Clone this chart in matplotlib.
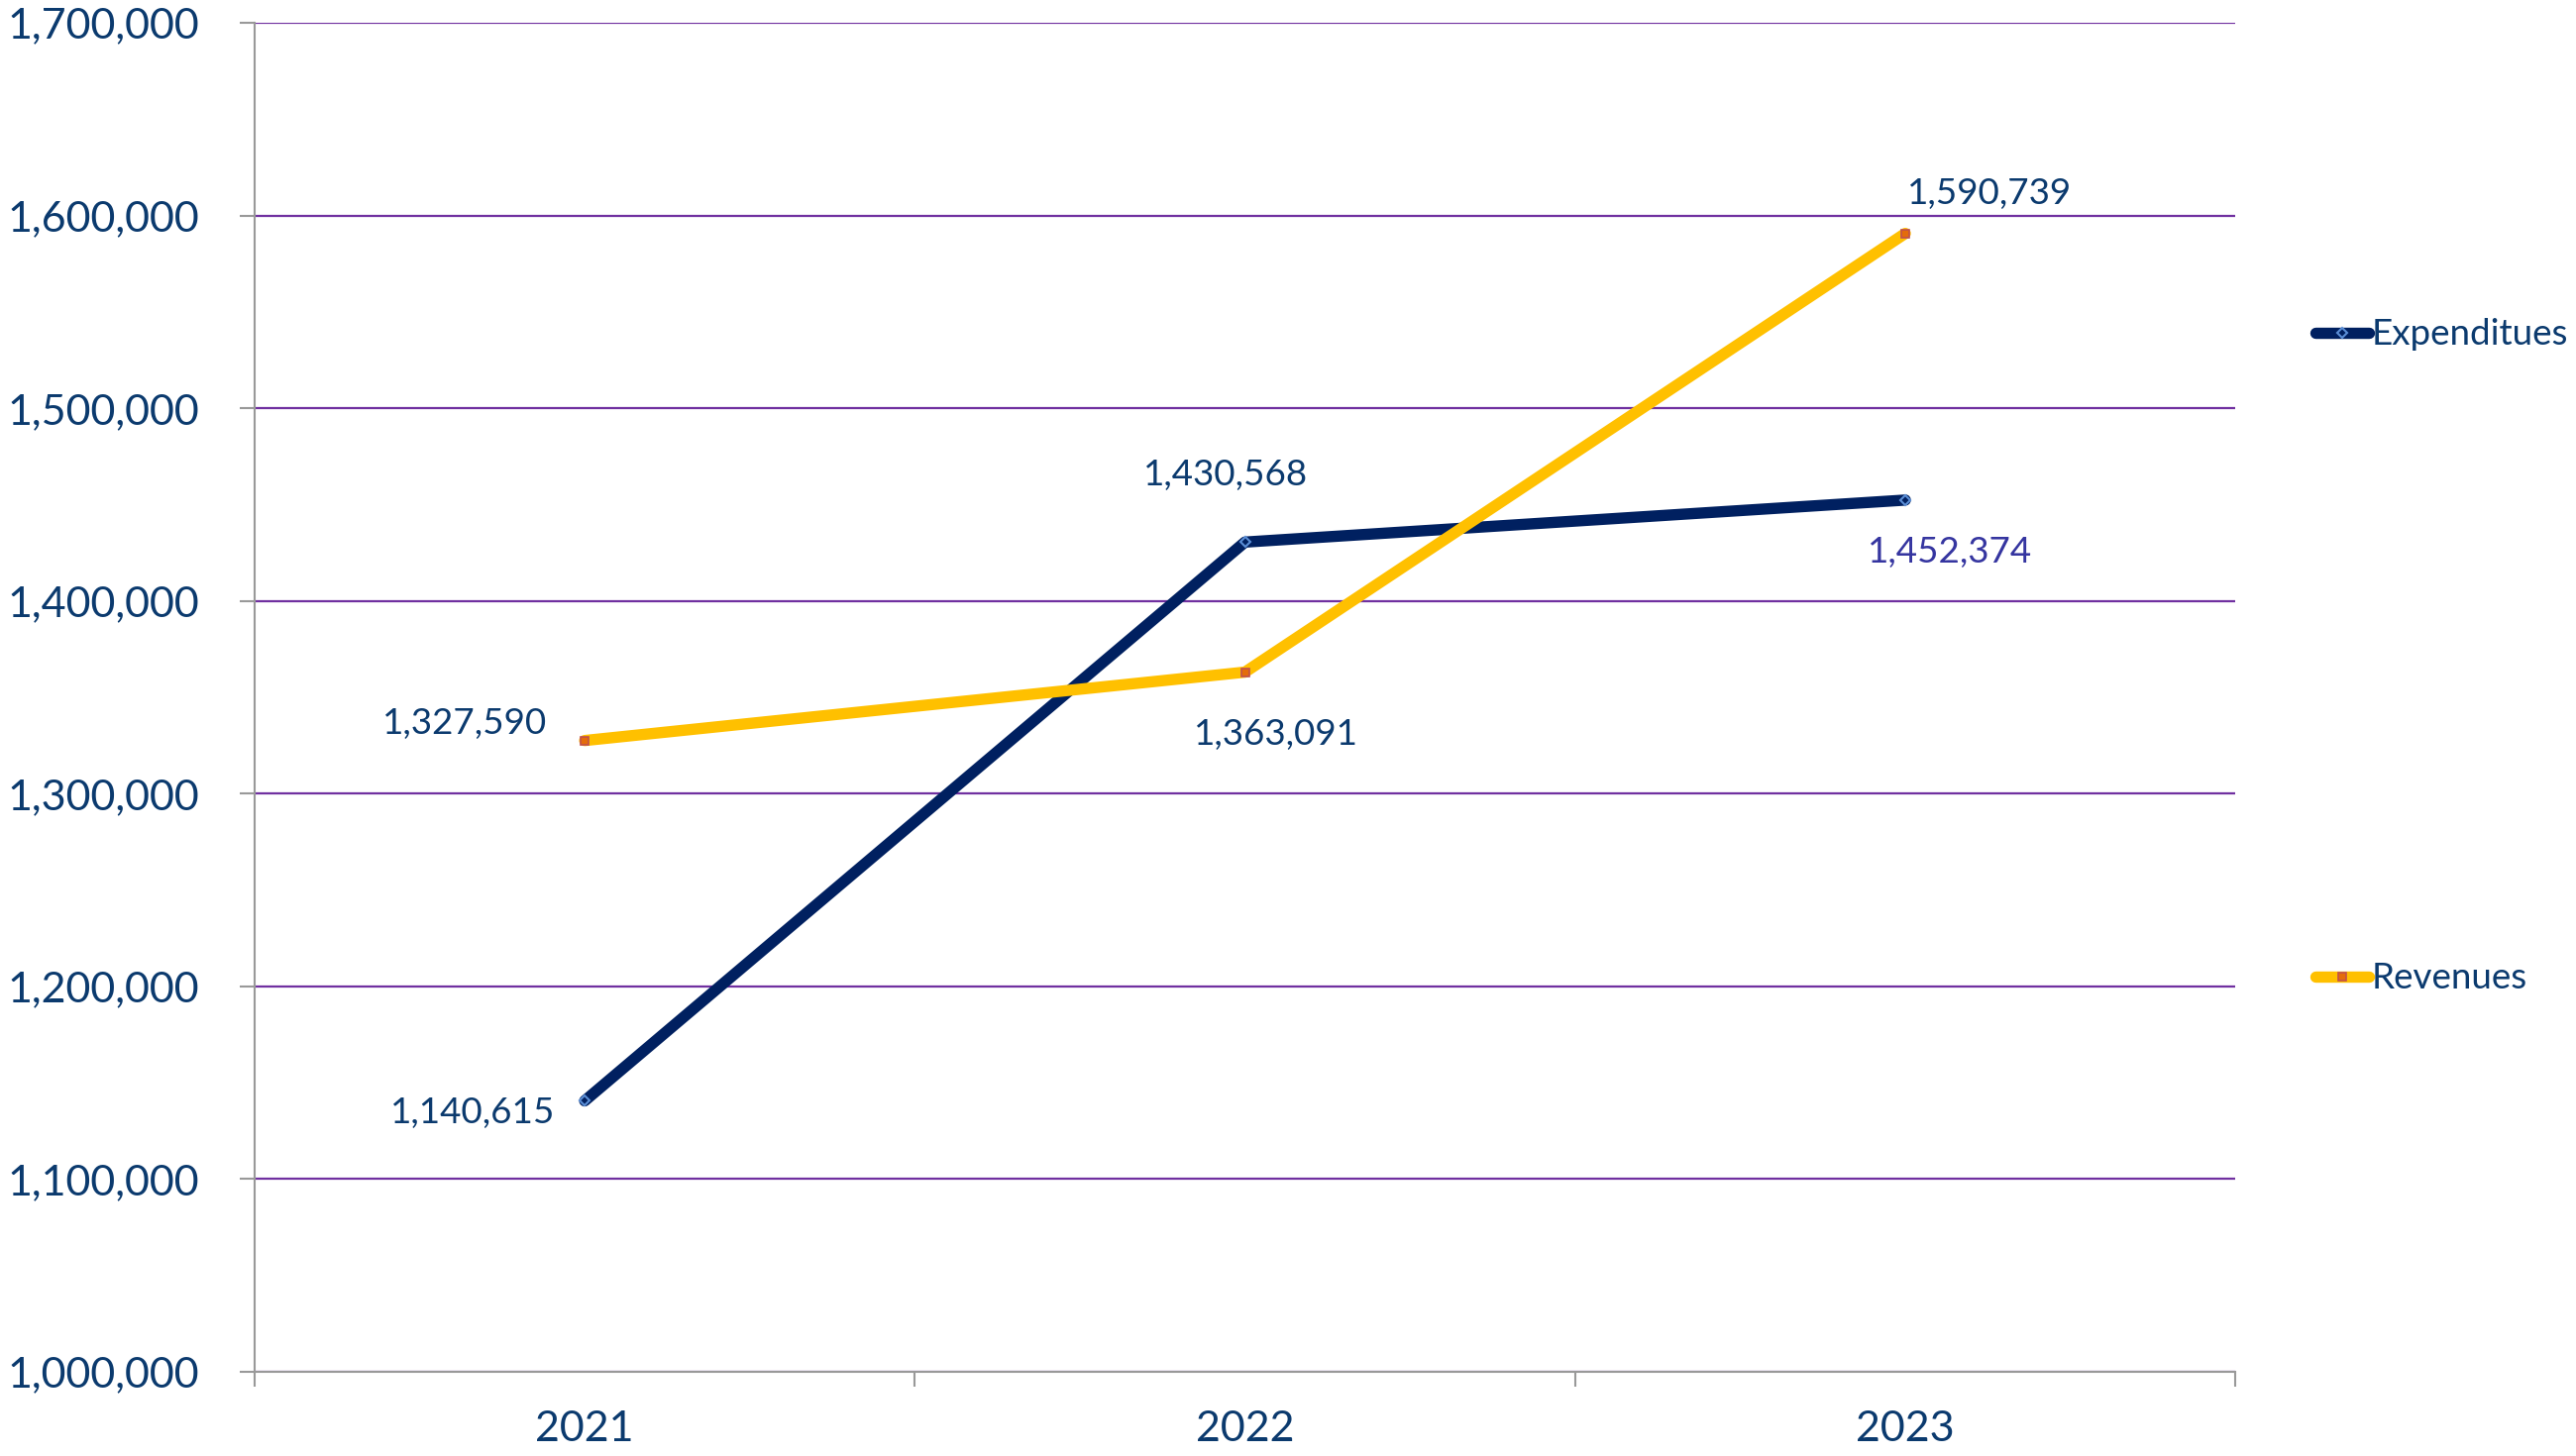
import matplotlib
matplotlib.use("Agg")
import matplotlib.pyplot as plt
from matplotlib.lines import Line2D
from matplotlib.ticker import FuncFormatter, FixedLocator

plt.rcParams['font.family'] = ['Lato', 'DejaVu Sans']

years = ['2021', '2022', '2023']
expenditures = [1140615, 1430568, 1452374]
revenues = [1327590, 1363091, 1590739]

TEXT = '#0B3A6E'
EXP_COLOR = '#002060'
REV_COLOR = '#FFC000'
GRID = '#7030A0'
AXIS = '#999999'

fig = plt.figure(figsize=(26, 14.7), dpi=100)
ax = fig.add_axes([0.0988, 0.0578, 0.769, 0.9265])

x = list(range(len(years)))
ax.plot(x, expenditures, color=EXP_COLOR, lw=8.2, solid_capstyle='round',
        marker='D', ms=5, mfc='none', mec='#5B8ED6', mew=1.5, zorder=3)
ax.plot(x, revenues, color=REV_COLOR, lw=8.2, solid_capstyle='round',
        marker='s', ms=6, mfc='#E46C0A', mec='#C0504D', mew=1.2, zorder=3)

# data labels (offsets in pixels)
exp_offsets = [(-113, -12), (-20, 68), (45, -53)]
rev_offsets = [(-121, 17), (31, -63), (85, 40)]
exp_colors = [TEXT, TEXT, '#3535A0']
for i, v in enumerate(expenditures):
    ax.annotate(f'{v:,}', (x[i], v), xytext=exp_offsets[i], textcoords='offset pixels',
                ha='center', va='center', fontsize=26.5, color=exp_colors[i])
for i, v in enumerate(revenues):
    ax.annotate(f'{v:,}', (x[i], v), xytext=rev_offsets[i], textcoords='offset pixels',
                ha='center', va='center', fontsize=26.5, color=TEXT)

ax.set_xlim(-0.5, 2.5)
ax.set_ylim(1000000, 1700000)
ax.set_yticks(range(1000000, 1700001, 100000))
ax.yaxis.set_major_formatter(FuncFormatter(lambda v, p: f'{int(v):,}'))
ax.grid(axis='y', color=GRID, lw=1.6, zorder=0)

ax.xaxis.set_major_locator(FixedLocator([-0.5, 0.5, 1.5, 2.5]))
ax.xaxis.set_major_formatter(FuncFormatter(lambda v, p: ''))
ax.xaxis.set_minor_locator(FixedLocator(x))
ax.set_xticklabels(years, minor=True)

ax.tick_params(axis='y', length=11, width=1.5, color=AXIS, pad=29, labelsize=31, labelcolor=TEXT)
ax.tick_params(axis='x', which='major', length=11, width=1.5, color=AXIS)
ax.tick_params(axis='x', which='minor', length=0, pad=28, labelsize=31, labelcolor=TEXT)

for s in ['top', 'right']:
    ax.spines[s].set_visible(False)
for s in ['left', 'bottom']:
    ax.spines[s].set_color(AXIS)
    ax.spines[s].set_linewidth(1.5)

h_exp = Line2D([], [], color=EXP_COLOR, lw=8.2, solid_capstyle='round',
               marker='D', ms=5, mfc='none', mec='#5B8ED6', mew=1.5)
h_rev = Line2D([], [], color=REV_COLOR, lw=8.2, solid_capstyle='round',
               marker='s', ms=6, mfc='#E46C0A', mec='#C0504D', mew=1.2)
fig.legend([h_exp], ['Expenditues'], loc='center left', bbox_to_anchor=(0.899, 1 - 338 / 1470),
           frameon=False, fontsize=26.5, labelcolor=TEXT, handlelength=1.45, handletextpad=0.08,
           borderaxespad=0, borderpad=0)
fig.legend([h_rev], ['Revenues'], loc='center left', bbox_to_anchor=(0.899, 1 - 988 / 1470),
           frameon=False, fontsize=26.5, labelcolor=TEXT, handlelength=1.45, handletextpad=0.08,
           borderaxespad=0, borderpad=0)

fig.savefig('out.png', dpi=100)
